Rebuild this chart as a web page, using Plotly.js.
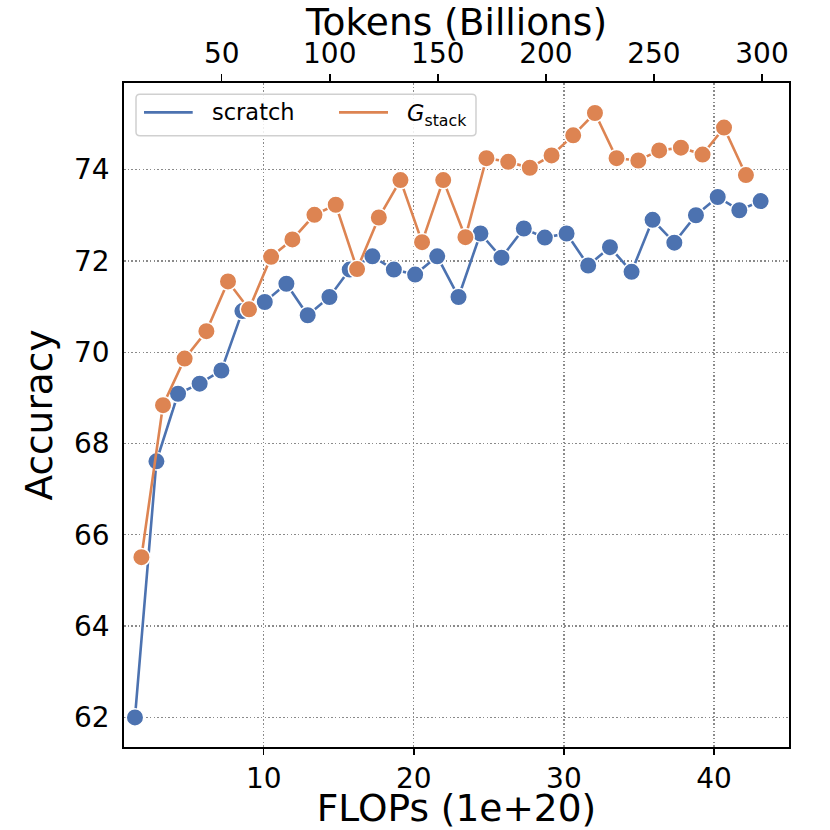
<!DOCTYPE html>
<html>
<head>
<meta charset="utf-8">
<script src="https://cdn.plot.ly/plotly-3.0.1.min.js"></script>
<style>html,body{margin:0;padding:0;background:#fff;}#chart{width:830px;height:830px;}</style>
</head>
<body>
<div id="chart"></div>
<script>
// FLOPs (1e+20) and accuracy for training from scratch
var scratchFlops = [1.42, 2.85, 4.29, 5.73, 7.18, 8.58, 10.07, 11.51, 12.93, 14.38, 15.73, 17.24, 18.67, 20.09, 21.56, 22.98, 24.44, 25.84, 27.33, 28.73, 30.18, 31.62, 33.07, 34.51, 35.91, 37.36, 38.80, 40.25, 41.69, 43.11];
var scratchAcc = [62.0, 67.61, 69.09, 69.31, 69.60, 70.90, 71.10, 71.50, 70.81, 71.21, 71.81, 72.10, 71.81, 71.70, 72.10, 71.21, 72.60, 72.07, 72.71, 72.51, 72.60, 71.90, 72.30, 71.76, 72.90, 72.40, 73.00, 73.40, 73.11, 73.31];
// FLOPs (1e+20) and accuracy for G_stack
var stackFlops = [1.85, 3.29, 4.73, 6.18, 7.62, 9.02, 10.49, 11.91, 13.38, 14.80, 16.22, 17.67, 19.11, 20.55, 21.96, 23.44, 24.84, 26.29, 27.73, 29.18, 30.62, 32.07, 33.51, 34.96, 36.35, 37.80, 39.24, 40.67, 42.13];
var stackAcc = [65.51, 68.84, 69.86, 70.46, 71.55, 70.94, 72.09, 72.47, 73.01, 73.23, 71.82, 72.95, 73.77, 72.41, 73.77, 72.52, 74.25, 74.17, 74.04, 74.31, 74.75, 75.24, 74.25, 74.20, 74.42, 74.48, 74.33, 74.92, 73.88];
// tick labels
var flopsTicks = [10, 20, 30, 40];
var tokenTicks = [50, 100, 150, 200, 250, 300];
var accTicks = [62, 64, 66, 68, 70, 72, 74];
var seriesNames = ['scratch', '<i>G</i><sub>stack</sub>'];

var blue = '#4c72b0', orange = '#dd8452';
var font = 'DejaVu Sans, Verdana, sans-serif';

function mk(x, y, c, name) {
  return {x: x, y: y, type: 'scatter', mode: 'lines+markers', name: name, showlegend: false,
    line: {color: c, width: 2.6},
    marker: {color: c, size: 17.5, line: {color: '#ffffff', width: 1.5}},
    xaxis: 'x', yaxis: 'y', hoverinfo: 'x+y'};
}
var traces = [
  mk(scratchFlops, scratchAcc, blue, seriesNames[0]),
  mk(stackFlops, stackAcc, orange, seriesNames[1]),
  {x: [tokenTicks[0]], y: [accTicks[0]], type: 'scatter', mode: 'markers', marker: {opacity: 0}, showlegend: false, hoverinfo: 'skip', xaxis: 'x2', yaxis: 'y'}
];

// legend box (paper coordinates), rounded corners
var bx0 = 0.01805, bx1 = 0.5293, by0 = 0.92063, by1 = 0.98298, rx = 0.006, ry = 0.006;
function p(x, y) { return x.toFixed(5) + ',' + y.toFixed(5); }
var boxPath = 'M' + p(bx0 + rx, by1) + ' L' + p(bx1 - rx, by1) + ' Q' + p(bx1, by1) + ' ' + p(bx1, by1 - ry) +
  ' L' + p(bx1, by0 + ry) + ' Q' + p(bx1, by0) + ' ' + p(bx1 - rx, by0) +
  ' L' + p(bx0 + rx, by0) + ' Q' + p(bx0, by0) + ' ' + p(bx0, by0 + ry) +
  ' L' + p(bx0, by1 - ry) + ' Q' + p(bx0, by1) + ' ' + p(bx0 + rx, by1) + ' Z';
var legY = 0.95587;

var layout = {
  width: 830, height: 830,
  margin: {l: 124, r: 41, t: 83, b: 83},
  paper_bgcolor: '#ffffff', plot_bgcolor: '#ffffff',
  font: {family: font, color: '#000000', size: 28},
  showlegend: false,
  xaxis: {
    range: [0.69, 45.0], tickvals: flopsTicks, ticktext: flopsTicks.map(String),
    ticks: 'outside', ticklen: 6, tickwidth: 1.5, tickcolor: '#000',
    tickfont: {family: font, size: 28},
    showline: true, linecolor: '#000', linewidth: 1.8, mirror: true,
    showgrid: true, gridcolor: '#8a8a8a', gridwidth: 1.3, griddash: '1.5px,2.2px',
    zeroline: false,
    title: {text: 'FLOPs (1e+20)', font: {family: font, size: 37.5}, standoff: 16}
  },
  xaxis2: {
    overlaying: 'x', side: 'top', anchor: 'y',
    range: [4.8, 312.5], tickvals: tokenTicks, ticktext: tokenTicks.map(String),
    ticks: 'outside', ticklen: 7, tickwidth: 1.5, tickcolor: '#000',
    tickfont: {family: font, size: 28},
    showline: true, linecolor: '#000', linewidth: 1.8,
    showgrid: false, zeroline: false,
    title: {text: 'Tokens (Billions)', font: {family: font, size: 37.5}, standoff: 6}
  },
  yaxis: {
    range: [61.352, 75.897], tickvals: accTicks, ticktext: accTicks.map(String),
    ticks: 'outside', ticklen: 7, tickcolor: 'rgba(0,0,0,0)',
    tickfont: {family: font, size: 28},
    showline: true, linecolor: '#000', linewidth: 1.8, mirror: true,
    showgrid: true, gridcolor: '#8a8a8a', gridwidth: 1.3, griddash: '1.5px,2.2px',
    zeroline: false,
    title: {text: 'Accuracy', font: {family: font, size: 37.5}, standoff: 10}
  },
  shapes: [
    {type: 'path', xref: 'paper', yref: 'paper', path: boxPath, layer: 'above',
      fillcolor: 'rgba(255,255,255,0.85)', line: {color: '#d0d0d0', width: 1.5}},
    {type: 'line', xref: 'paper', yref: 'paper', x0: 0.03008, x1: 0.10331, y0: legY, y1: legY, layer: 'above',
      line: {color: blue, width: 2.7}},
    {type: 'line', xref: 'paper', yref: 'paper', x0: 0.32331, x1: 0.39699, y0: legY, y1: legY, layer: 'above',
      line: {color: orange, width: 2.7}}
  ],
  annotations: [
    {xref: 'paper', yref: 'paper', x: 0.12932, y: legY, xanchor: 'left', yanchor: 'middle', showarrow: false,
      text: seriesNames[0], font: {family: font, size: 22.5, color: '#000'}},
    {xref: 'paper', yref: 'paper', x: 0.42256, y: legY - 0.004, xanchor: 'left', yanchor: 'middle', showarrow: false,
      text: seriesNames[1], font: {family: font, size: 22.5, color: '#000'}}
  ]
};

Plotly.newPlot('chart', traces, layout, {displayModeBar: false, staticPlot: true});
</script>
</body>
</html>
